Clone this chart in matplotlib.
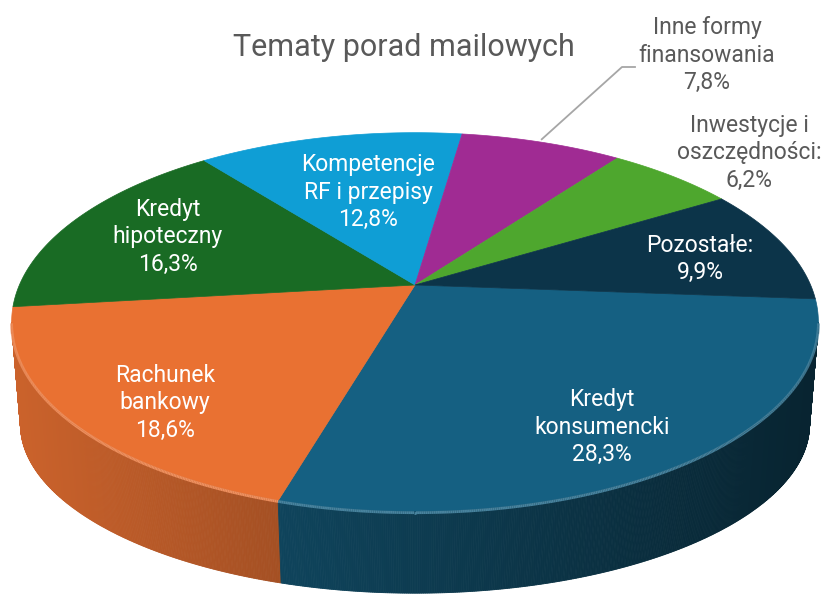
import numpy as np
import matplotlib.pyplot as plt
from matplotlib.patches import Polygon
from matplotlib.collections import LineCollection
from matplotlib.colors import to_rgb

plt.rcParams['font.family'] = ['Roboto', 'DejaVu Sans']

# data
title = 'Tematy porad mailowych'
categories = ['Kredyt\nkonsumencki', 'Rachunek\nbankowy', 'Kredyt\nhipoteczny',
              'Kompetencje\nRF i przepisy', 'Inne formy\nfinansowania',
              'Inwestycje i\noszczędności:', 'Pozostałe:']
values = [28.3, 18.6, 16.3, 12.8, 7.8, 6.2, 9.9]
colors = ['#156082', '#E97132', '#196B24', '#0F9ED5', '#A02B93', '#4EA72E', '#0C3449']

# layout (pixel space of the 825x594 canvas)
label_xy = [(602, 427), (165, 403), (168, 237), (368, 192), (707, 55), (749, 153), (700, 259)]
label_col = ['white', 'white', 'white', 'white', '#595959', '#595959', 'white']
elbow = [(622, 67), (635, 67)]

# 3D view of the disc
cx, cy = 415, 285
F, D = 1800, 4.55
elev = np.radians(27.4)
start = np.radians(-4.3)


def top(t, r=1.0):
    d = D + r * np.sin(t) * np.cos(elev)
    return cx + F * r * np.cos(t) / d, cy - F * r * np.sin(t) * np.sin(elev) / d


def bottom(t):
    x, y = top(t)
    return cx + 0.978 * (x - cx), y + 108 + 26 * np.minimum(0, np.sin(t))


vals = np.array(values)
cum = np.concatenate([[0], np.cumsum(vals / vals.sum())])
theta = start - 2 * np.pi * cum


def slice_of(t):
    f = ((start - t) % (2 * np.pi)) / (2 * np.pi)
    return np.clip(np.searchsorted(cum, f, side='right') - 1, 0, len(values) - 1)


fig = plt.figure(figsize=(8.25, 5.94), dpi=100)
ax = fig.add_axes([0, 0, 1, 1])
ax.set_xlim(0, 825)
ax.set_ylim(594, 0)
ax.axis('off')

# side wall, only the visible front part
grid = np.linspace(np.radians(20), np.radians(-200), 2000)
gx, _ = top(grid)
t_r, t_l = grid[np.argmax(gx)], grid[np.argmin(gx)]
ts = np.linspace(t_r, t_l, 700)
mids = (ts[:-1] + ts[1:]) / 2
for i in np.argsort(-np.sin(mids)):
    a, b = ts[i], ts[i + 1]
    xa, ya = top(a)
    xb, yb = top(b)
    xc, yc = bottom(b)
    xd, yd = bottom(a)
    m = np.clip(0.87 - 0.00062 * ((xa + xb) / 2 - 15), 0.35, 1)
    col = np.array(to_rgb(colors[slice_of(mids[i])])) * m
    ax.add_patch(Polygon([(xa, ya), (xb, yb), (xc, yc), (xd, yd)], closed=True,
                         facecolor=col, edgecolor=col, lw=0.6))

# top faces
for k in range(len(values)):
    tt = np.linspace(theta[k], theta[k + 1], 200)
    x, y = top(tt)
    pts = [(cx, cy)] + list(zip(x, y))
    ax.add_patch(Polygon(pts, closed=True, facecolor=colors[k], edgecolor=colors[k], lw=0.5))

# bevel highlight on the front rim
segs, segc = [], []
for i in range(len(mids)):
    x, y = top(np.array([ts[i], ts[i + 1]]))
    segs.append(list(zip(x, y + 1.5)))
    c = np.array(to_rgb(colors[slice_of(mids[i])]))
    segc.append(c + (1 - c) * 0.22)
ax.add_collection(LineCollection(segs, colors=segc, lw=2.0))

# labels
for k in range(len(values)):
    txt = categories[k] + '\n' + f'{values[k]:.1f}'.replace('.', ',') + '%'
    ax.text(*label_xy[k], txt, ha='center', va='center', fontsize=16.5,
            color=label_col[k], linespacing=1.25)

# leader line for the outside label
tm = (theta[4] + theta[5]) / 2
sx, sy = top(tm)
ax.plot([sx, elbow[0][0], elbow[1][0]], [sy - 3, elbow[0][1], elbow[1][1]],
        color='#A6A6A6', lw=1.3)

ax.text(404, 48, title, ha='center', va='center', fontsize=22, color='#595959')

fig.savefig('out.png', dpi=100)
